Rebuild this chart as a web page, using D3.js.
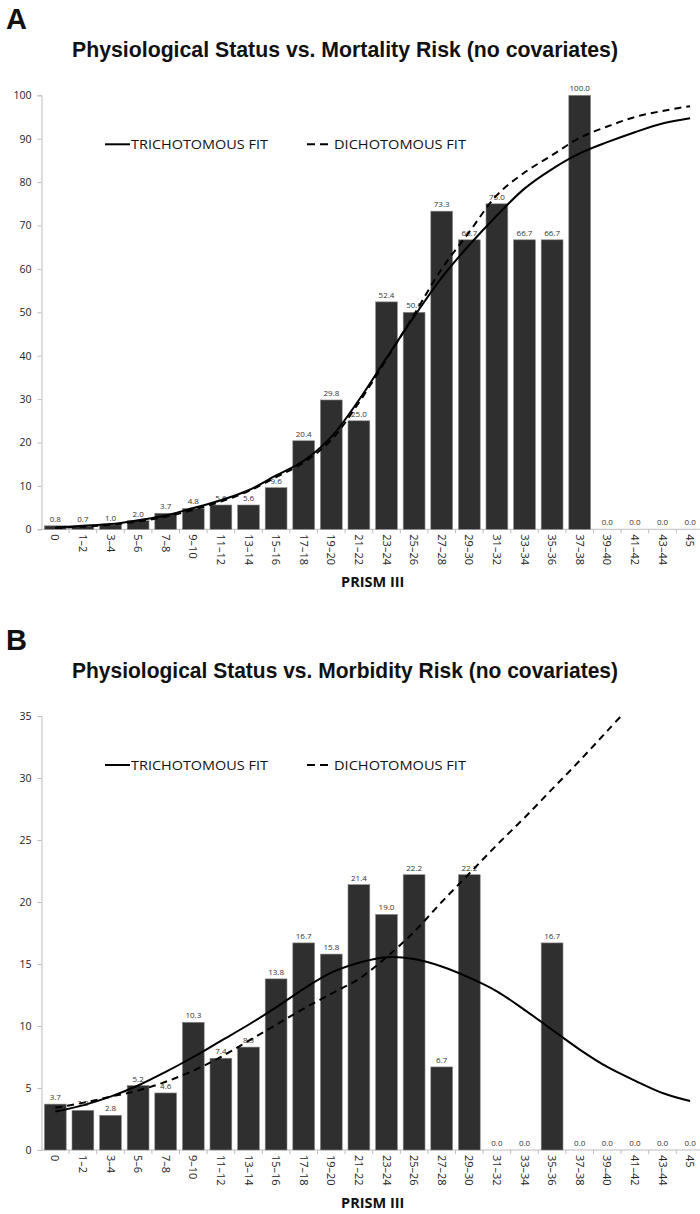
<!DOCTYPE html>
<html><head><meta charset="utf-8">
<script src="https://cdn.jsdelivr.net/npm/d3@7"></script>
<style>body{margin:0;background:#fff}svg{display:block}</style>
</head><body>
<svg id="c" width="700" height="1214"></svg>
<script>
const categories = ["0","1–2","3–4","5–6","7–8","9–10","11–12","13–14","15–16","17–18","19–20","21–22","23–24","25–26","27–28","29–30","31–32","33–34","35–36","37–38","39–40","41–42","43–44","45"];

const mortalityBars = [0.8,0.7,1.0,2.0,3.7,4.8,5.6,5.6,9.6,20.4,29.8,25.0,52.4,50.0,73.3,66.7,75.0,66.7,66.7,100.0,0.0,0.0,0.0,0.0];
const mortalityTri  = [0.4,0.8,1.2,2.1,3.2,4.9,6.7,9.0,12.4,15.8,21.3,29.8,39.5,49,58,65.5,72.3,78.5,83,86.6,89.2,91.5,93.5,94.7];
const mortalityDi   = [0.3,0.6,1.0,1.8,2.9,4.5,6.4,8.8,12.0,15.4,20.6,29.2,39.2,49.5,60,68.5,77,82.2,86.2,90.2,92.8,95,96.4,97.5];
const mortalityTicks = [0,10,20,30,40,50,60,70,80,90,100];

const morbidityBars = [3.7,3.2,2.8,5.2,4.6,10.3,7.4,8.3,13.8,16.7,15.8,21.4,19.0,22.2,6.7,22.2,0.0,0.0,16.7,0.0,0.0,0.0,0.0,0.0];
const morbidityTri  = [3.1,3.6,4.3,5.2,6.3,7.5,8.8,10.1,11.5,13.0,14.3,15.1,15.55,15.4,14.8,13.9,12.8,11.3,9.7,8.1,6.7,5.6,4.6,3.95];
const morbidityDi   = [3.4,3.8,4.3,4.8,5.5,6.4,7.5,8.8,10.1,11.4,12.6,13.8,15.55,17.6,20.0,22.3,24.6,26.8,29.1,31.4,33.8,36.2];
const morbidityTicks = [0,5,10,15,20,25,30,35];

const svg = d3.select("#c");
const W = 700;

function panel(cfg){
  const g = svg.append("g");
  const x = d3.scaleBand().domain(categories).range([41.5, 703.9]).paddingInner(0.21).paddingOuter(0.105);
  const y = d3.scaleLinear().domain([0, cfg.max]).range([cfg.y0, cfg.yTop]);

  // letter & title
  g.append("text").attr("x",6).attr("y",cfg.yTop-66).attr("font-family","Liberation Sans, Arial").attr("font-weight","bold")
    .attr("font-size",29).attr("fill","#111").text(cfg.letter);
  g.append("text").attr("x",72).attr("y",cfg.yTop-38).attr("font-family","Liberation Sans, Arial").attr("font-weight","bold")
    .attr("font-size",21.5).attr("fill","#111").attr("textLength",546).attr("lengthAdjust","spacingAndGlyphs").text(cfg.title);

  // y axis
  const ya = g.append("g").attr("transform",`translate(${x.range()[0]},0)`)
    .call(d3.axisLeft(y).tickValues(cfg.ticks).tickSize(4).tickPadding(6).tickFormat(d3.format("d")));
  ya.select(".domain").attr("stroke","#bdbdbd");
  ya.selectAll(".tick line").attr("stroke","#bdbdbd");
  ya.selectAll(".tick text").attr("font-family","Open Sans, sans-serif").attr("font-size",10.5).attr("fill","#222");

  // x axis
  g.append("line").attr("x1",x.range()[0]).attr("x2",W).attr("y1",cfg.y0).attr("y2",cfg.y0).attr("stroke","#bdbdbd");
  const step = x.step();
  g.selectAll("line.xt").data(categories.slice(1)).join("line").attr("class","xt")
    .attr("x1",d=>x(d)-(step-x.bandwidth())/2).attr("x2",d=>x(d)-(step-x.bandwidth())/2)
    .attr("y1",cfg.y0).attr("y2",cfg.y0+4).attr("stroke","#bdbdbd");
  g.selectAll("text.xl").data(categories).join("text").attr("class","xl")
    .attr("transform",d=>`translate(${x(d)+x.bandwidth()/2},${cfg.y0+5}) rotate(90)`)
    .attr("dy","0.35em").attr("text-anchor","start")
    .attr("font-family","Open Sans, sans-serif").attr("font-size",11).attr("fill","#222").text(d=>d);
  g.append("text").attr("x",(x.range()[0]+x.range()[1])/2).attr("y",cfg.y0+58).attr("text-anchor","middle")
    .attr("font-family","Open Sans, sans-serif").attr("font-weight","bold").attr("font-size",14.5).attr("fill","#111").text("PRISM III");

  // bars
  g.selectAll("rect.bar").data(cfg.bars).join("rect").attr("class","bar")
    .attr("x",(d,i)=>x(categories[i])).attr("width",x.bandwidth())
    .attr("y",d=>y(d)).attr("height",d=>cfg.y0-y(d))
    .attr("fill","#2f2f2f").attr("stroke","#8a8a8a").attr("stroke-width",0.6);
  g.selectAll("text.bl").data(cfg.bars).join("text").attr("class","bl")
    .attr("x",(d,i)=>x(categories[i])+x.bandwidth()/2).attr("y",d=>y(d)-4)
    .attr("text-anchor","middle").attr("font-family","Open Sans, sans-serif").attr("font-size",8).attr("fill","#333")
    .text(d=>d.toFixed(1));

  // curves
  const clipId = "clip"+cfg.letter;
  svg.append("defs").append("clipPath").attr("id",clipId).append("rect")
    .attr("x",x.range()[0]).attr("y",cfg.yTop).attr("width",W-x.range()[0]).attr("height",cfg.y0-cfg.yTop);
  const line = d3.line().x((d,i)=>x(categories[i])+x.bandwidth()/2).y(d=>y(d)).curve(d3.curveCatmullRom.alpha(0.5));
  g.append("path").attr("clip-path",`url(#${clipId})`).attr("d",line(cfg.tri)).attr("fill","none").attr("stroke","#000").attr("stroke-width",2);
  g.append("path").attr("clip-path",`url(#${clipId})`).attr("d",line(cfg.di)).attr("fill","none").attr("stroke","#000").attr("stroke-width",2).attr("stroke-dasharray","7,5");

  // legend
  const ly = cfg.yTop + cfg.legendOff;
  g.append("line").attr("x1",105).attr("x2",130).attr("y1",ly).attr("y2",ly).attr("stroke","#000").attr("stroke-width",2);
  g.append("text").attr("x",131).attr("y",ly+5).attr("font-family","Open Sans, sans-serif").attr("font-size",13).attr("fill","#111")
    .attr("textLength",137).attr("lengthAdjust","spacingAndGlyphs").text("TRICHOTOMOUS FIT");
  g.append("line").attr("x1",307).attr("x2",329).attr("y1",ly).attr("y2",ly).attr("stroke","#000").attr("stroke-width",2).attr("stroke-dasharray","8,5");
  g.append("text").attr("x",334).attr("y",ly+5).attr("font-family","Open Sans, sans-serif").attr("font-size",13).attr("fill","#111")
    .attr("textLength",132).attr("lengthAdjust","spacingAndGlyphs").text("DICHOTOMOUS FIT");
}

panel({letter:"A", title:"Physiological Status vs. Mortality Risk (no covariates)", yTop:95.3, y0:529.3, max:100,
  ticks:mortalityTicks, bars:mortalityBars, tri:mortalityTri, di:mortalityDi, legendOff:49});
panel({letter:"B", title:"Physiological Status vs. Morbidity Risk (no covariates)", yTop:716, y0:1150, max:35,
  ticks:morbidityTicks, bars:morbidityBars, tri:morbidityTri, di:morbidityDi, legendOff:49});
</script>
</body></html>
